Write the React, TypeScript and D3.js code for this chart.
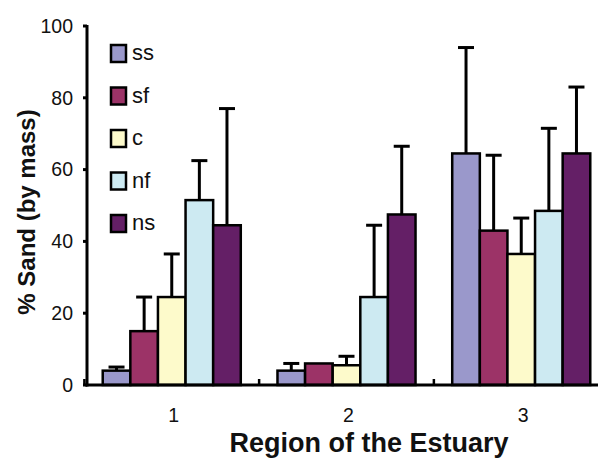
import React from 'react';
import * as d3 from 'd3';

// regions along the estuary and sediment types
const regions = ['1', '2', '3'];
const series = ['ss', 'sf', 'c', 'nf', 'ns'];

// mean % sand per region, one array per sediment type
const ssMean = [4, 4, 64.5];
const sfMean = [15, 6, 43];
const cMean = [24.5, 5.5, 36.5];
const nfMean = [51.5, 24.5, 48.5];
const nsMean = [44.5, 47.5, 64.5];

// upper error bar lengths
const ssErr = [1, 2, 29.5];
const sfErr = [9.5, 0, 21];
const cErr = [12, 2.5, 10];
const nfErr = [11, 20, 23];
const nsErr = [32.5, 19, 18.5];

const yTicks = [0, 20, 40, 60, 80, 100];

const means = [ssMean, sfMean, cMean, nfMean, nsMean];
const errs = [ssErr, sfErr, cErr, nfErr, nsErr];
const colors = ['#9a98cb', '#9c3367', '#fdfacb', '#cdeaf2', '#641f66'];

const W = 598;
const H = 458;
const font = 'Arial, "Liberation Sans", Helvetica, sans-serif';

export default function App() {
  const x0 = d3.scaleBand().domain(regions).range([87, 606]).paddingInner(0.21).paddingOuter(0.09);
  const x1 = d3.scaleBand().domain(series).range([0, x0.bandwidth()]).padding(0);
  const y = d3.scaleLinear().domain([0, 100]).range([385, 26]);
  const color = d3.scaleOrdinal<string, string>().domain(series).range(colors);

  // boundaries between region groups
  const step = x0.step();
  const gap = (step - x0.bandwidth()) / 2;
  const bounds = regions.map((r) => (x0(r) as number) - gap).concat([(x0('3') as number) + x0.bandwidth() + gap]);

  const legendY = d3.scaleLinear().domain([0, 4]).range([45, 215]);

  return (
    <div style={{ position: 'absolute', left: 0, top: 0 }}>
      <svg width={W} height={H} style={{ display: 'block', background: '#fff' }}>
        {/* bars */}
        {regions.map((r, ri) => (
          <g key={r} transform={`translate(${x0(r)},0)`}>
            {series.map((s, si) => (
              <rect
                key={s}
                x={x1(s)}
                y={y(means[si][ri])}
                width={x1.bandwidth()}
                height={y(0) - y(means[si][ri])}
                fill={color(s)}
                stroke="#000"
                strokeWidth={2.5}
              />
            ))}
          </g>
        ))}
        {/* error bars */}
        {regions.map((r, ri) => (
          <g key={'e' + r} transform={`translate(${x0(r)},0)`}>
            {series.map((s, si) => {
              if (!errs[si][ri]) return null;
              const cx = (x1(s) as number) + x1.bandwidth() / 2;
              const top = y(means[si][ri] + errs[si][ri]);
              return (
                <g key={s} stroke="#000" strokeWidth={3}>
                  <line x1={cx} x2={cx} y1={y(means[si][ri])} y2={top} />
                  <line x1={cx - 8} x2={cx + 8} y1={top} y2={top} />
                </g>
              );
            })}
          </g>
        ))}
        {/* axes */}
        <line x1={87} x2={87} y1={y(100) - 1} y2={y(0) + 1.5} stroke="#000" strokeWidth={3} />
        <line x1={85.5} x2={W} y1={y(0)} y2={y(0)} stroke="#000" strokeWidth={3} />
        {yTicks.map((t) => (
          <g key={t}>
            <line x1={83} x2={87} y1={y(t)} y2={y(t)} stroke="#000" strokeWidth={3} />
            <text x={73} y={y(t)} dy="0.35em" textAnchor="end" fontFamily={font} fontSize={19.5} fill="#111">
              {t}
            </text>
          </g>
        ))}
        {bounds.map((b, i) => (
          <line key={i} x1={b} x2={b} y1={y(0)} y2={y(0) - 6} stroke="#000" strokeWidth={2.5} />
        ))}
        {regions.map((r) => (
          <text key={r} x={(x0(r) as number) + x0.bandwidth() / 2 + 2} y={422} textAnchor="middle" fontFamily={font} fontSize={19.5} fill="#111">
            {r}
          </text>
        ))}
        {/* legend */}
        {series.map((s, i) => (
          <g key={s}>
            <rect x={111} y={legendY(i)} width={15} height={17} fill={color(s)} stroke="#000" strokeWidth={2.5} />
            <text x={132} y={legendY(i) + 15} fontFamily={font} fontSize={22} fill="#111">
              {s}
            </text>
          </g>
        ))}
        {/* titles */}
        <text transform="translate(35,212) rotate(-90)" textAnchor="middle" fontFamily={font} fontSize={24} fontWeight="bold" fill="#111">
          % Sand (by mass)
        </text>
        <text x={369} y={452} textAnchor="middle" fontFamily={font} fontSize={27} fontWeight="bold" fill="#111">
          Region of the Estuary
        </text>
      </svg>
    </div>
  );
}
